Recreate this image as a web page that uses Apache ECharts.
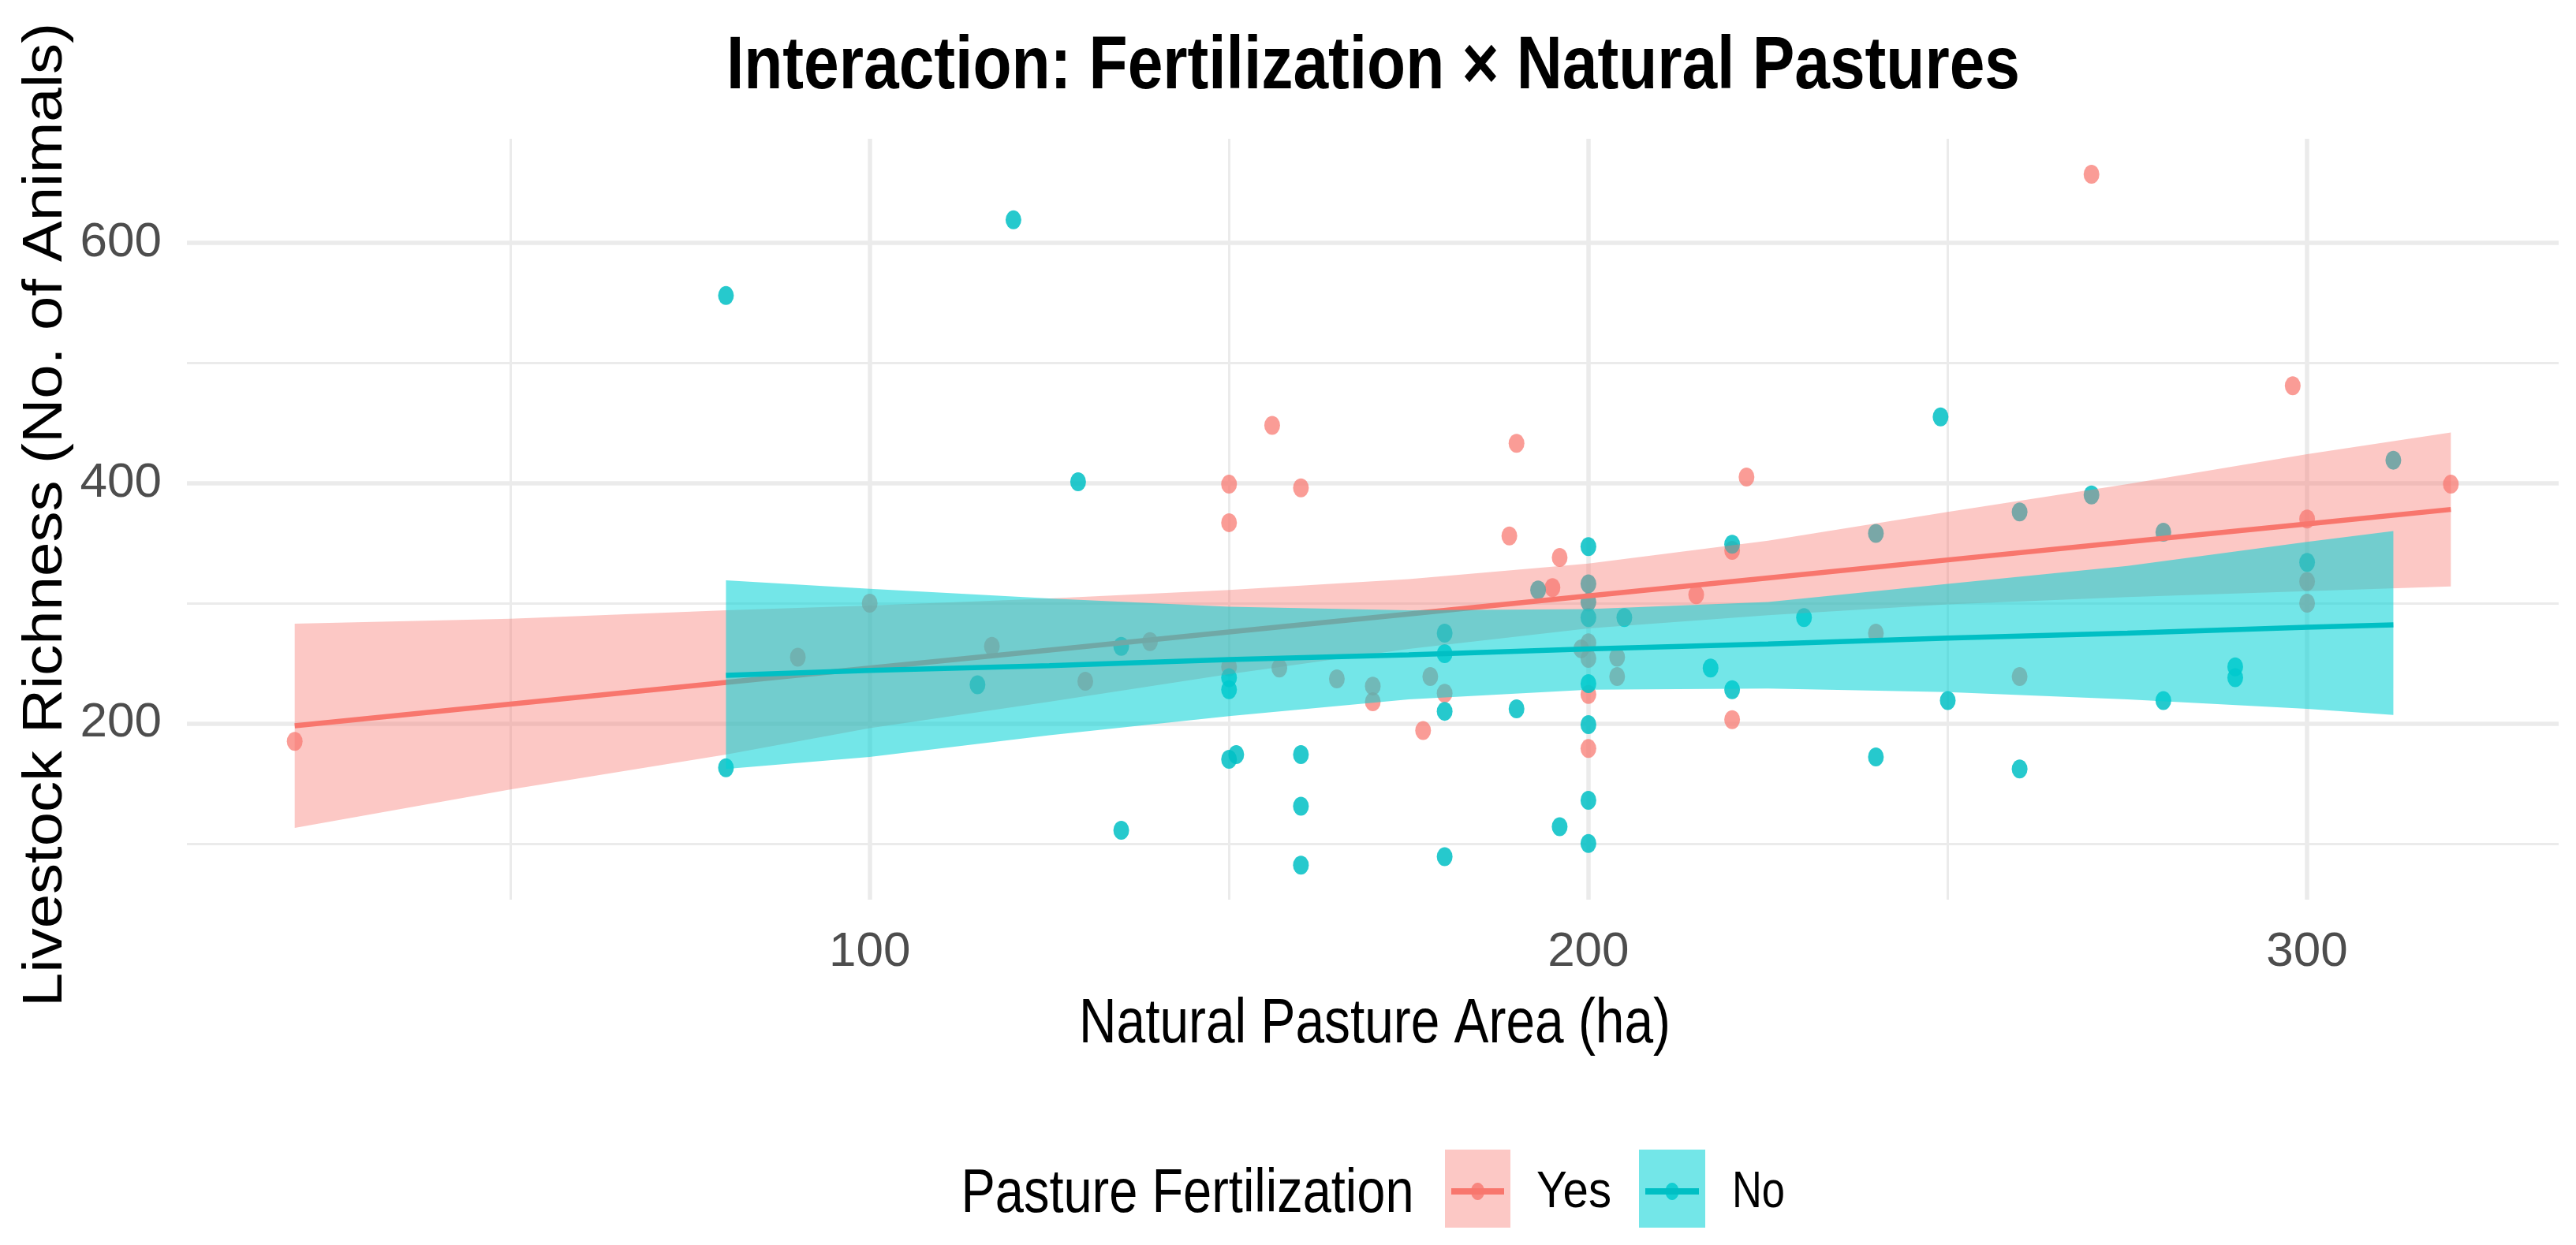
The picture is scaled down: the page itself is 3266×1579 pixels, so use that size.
<!DOCTYPE html>
<html>
<head>
<meta charset="utf-8">
<script src="https://cdn.jsdelivr.net/npm/echarts@6/dist/echarts.min.js"></script>
<style>
html,body{margin:0;padding:0;background:#fff;}
#chart{width:3266px;height:1579px;}
</style>
</head>
<body>
<div id="chart"></div>
<script>
// ---------------- data ----------------
const yesPoints = [[20,185],[90,255],[100,300],[117,264],[130,235],[139,268],[150,399],[150,367],[150,247],[156,448],[157,246],[160,396],[165,237],[170,231],[170,218],[177,194],[178,239],[180,225],[189,356],[190,433],[195,313],[196,338],[199,262],[200,267],[200,254],[200,224],[200,179],[204,255],[204,239],[215,307],[220,344],[220,203],[222,405],[240,275],[260,239],[270,657],[298,481],[300,370],[300,318],[300,300],[320,399]];
const noPoints = [[80,556],[80,163],[115,232],[120,619],[129,401],[135,264],[135,111],[150,238],[150,228],[150,170],[151,174],[160,174],[160,131],[160,82],[180,275],[180,258],[180,210],[180,89],[190,212],[193,311],[196,114],[200,347],[200,316],[200,301],[200,288],[200,233],[200,199],[200,136],[200,100],[205,288],[217,246],[220,349],[220,228],[230,288],[240,358],[240,172],[249,455],[250,219],[260,376],[260,162],[270,390],[280,359],[280,219],[290,247],[290,238],[300,334],[312,419]];

const yesBandX = [20, 50, 80, 100, 125, 150, 175, 200, 225, 250, 275, 300, 320];
const yesFit   = [198, 216, 234, 246, 261, 276, 291, 306, 321, 336, 351, 366, 378];
const yesUpper = [283, 287, 294, 298, 304, 311, 320, 333, 352, 376, 399, 424, 442];
const yesLower = [113, 145, 174, 196, 218, 241, 262, 279, 290, 299, 305, 310, 314];

const noBandX = [80, 100, 125, 150, 175, 200, 225, 250, 275, 300, 312];
const noFit   = [240, 244, 248, 253, 257, 262, 266, 271, 275, 280, 282];
const noUpper = [319, 312, 304, 297, 294, 295, 301, 316, 331, 351, 360];
const noLower = [162, 172, 190, 206, 220, 228, 229, 226, 220, 212, 207];

const xMajorTicks = [100, 200, 300];
const xMinorTicks = [50, 150, 250];
const yMajorTicks = [200, 400, 600];
const yMinorTicks = [100, 300, 500];

const titleText = 'Interaction: Fertilization × Natural Pastures';
const xTitle = 'Natural Pasture Area (ha)';
const yTitle = 'Livestock Richness (No. of Animals)';
const legendTitle = 'Pasture Fertilization';
const groupNames = ['Yes', 'No'];

// ---------------- styling ----------------
const RED = '#F8766D', CYAN = '#00BFC4';
const CYAN_FILL = '#00D2D6';
const FONT = '"Liberation Sans", Arial, sans-serif';
const GRID = '#EBEBEB';

const mctx = document.createElement('canvas').getContext('2d');
function scaleFor(text, size, weight, targetW) {
  mctx.font = (weight || 'normal') + ' ' + size + 'px ' + FONT;
  const w = mctx.measureText(text).width;
  return w > 0 ? targetW / w : 1;
}
function fittedText(text, cx, cy, size, weight, targetW, fill, rotation) {
  return {
    type: 'text', x: cx, y: cy, rotation: rotation || 0,
    scaleX: scaleFor(text, size, weight, targetW), scaleY: 1,
    silent: true, z: 50,
    style: { text: text, fontSize: size, fontWeight: weight || 'normal', fontFamily: FONT,
             fill: fill || '#000', align: 'center', verticalAlign: 'middle' }
  };
}

function bandSeries(name, xs, lo, hi, color, opacity, z) {
  const data = xs.map((x, i) => [x, lo[i], hi[i]]);
  return {
    type: 'custom', name: name + ' band', z: z, silent: true, clip: false,
    xAxisIndex: 0, yAxisIndex: 0,
    data: data,
    encode: { x: 0, y: [1, 2] },
    renderItem: function (params, api) {
      if (params.dataIndex !== 0) return { type: 'group', children: [] };
      const upper = data.map(d => api.coord([d[0], d[2]]));
      const lower = data.map(d => api.coord([d[0], d[1]])).reverse();
      return { type: 'polygon', shape: { points: upper.concat(lower) },
               style: { fill: color, opacity: opacity } };
    }
  };
}
function fitSeries(name, xs, ys, color, z) {
  return {
    type: 'line', name: name + ' fit', z: z, silent: true,
    xAxisIndex: 0, yAxisIndex: 0,
    data: xs.map((x, i) => [x, ys[i]]),
    showSymbol: false, symbol: 'none',
    lineStyle: { color: color, width: 6.5 }
  };
}
function pointSeries(name, pts, color, opacity) {
  return {
    type: 'scatter', name: name, z: 2, silent: true,
    xAxisIndex: 0, yAxisIndex: 0,
    data: pts, symbol: 'circle', symbolSize: [20, 24],
    itemStyle: { color: color, opacity: opacity }
  };
}

const tickLabel = { fontSize: 62, color: '#4D4D4D', fontFamily: FONT, lineHeight: 62 };

const option = {
  animation: false,
  backgroundColor: '#ffffff',
  grid: { left: 237, right: 22, top: 176, bottom: 438, containLabel: false },
  xAxis: [
    { type: 'value', min: 5, max: 335, position: 'bottom',
      axisLine: { show: false },
      axisTick: { show: false, customValues: xMajorTicks },
      axisLabel: Object.assign({ customValues: xMajorTicks, margin: 36 }, tickLabel),
      splitLine: { show: true, lineStyle: { color: GRID, width: 5.5 } } },
    { type: 'value', min: 5, max: 335, position: 'top',
      axisLine: { show: false },
      axisTick: { show: false, customValues: xMinorTicks },
      axisLabel: { show: false, customValues: xMinorTicks },
      splitLine: { show: true, lineStyle: { color: GRID, width: 3 } } }
  ],
  yAxis: [
    { type: 'value', min: 53.25, max: 686.5, position: 'left',
      axisLine: { show: false },
      axisTick: { show: false, customValues: yMajorTicks },
      axisLabel: Object.assign({ customValues: yMajorTicks, margin: 32 }, tickLabel),
      splitLine: { show: true, lineStyle: { color: GRID, width: 5.5 } } },
    { type: 'value', min: 53.25, max: 686.5, position: 'right',
      axisLine: { show: false },
      axisTick: { show: false, customValues: yMinorTicks },
      axisLabel: { show: false, customValues: yMinorTicks },
      splitLine: { show: true, lineStyle: { color: GRID, width: 3 } } }
  ],
  series: [
    pointSeries(groupNames[0], yesPoints, RED, 0.72),
    pointSeries(groupNames[1], noPoints, CYAN, 0.85),
    bandSeries(groupNames[0], yesBandX, yesLower, yesUpper, RED, 0.4, 3),
    fitSeries(groupNames[0], yesBandX, yesFit, RED, 4),
    bandSeries(groupNames[1], noBandX, noLower, noUpper, CYAN_FILL, 0.55, 5),
    fitSeries(groupNames[1], noBandX, noFit, CYAN, 6)
  ],
  graphic: [
    fittedText(titleText, 1741, 86, 95, 'bold', 1640, '#000'),
    fittedText(xTitle, 1743, 1300, 79, 'normal', 750, '#000'),
    fittedText(yTitle, 59, 653, 70, 'normal', 1248, '#000', Math.PI / 2),
    fittedText(legendTitle, 1505.5, 1515, 78, 'normal', 574, '#000'),
    // legend keys
    { type: 'rect', shape: { x: 1832, y: 1458, width: 83, height: 99 }, style: { fill: RED, opacity: 0.4 }, silent: true, z: 40 },
    { type: 'ellipse', shape: { cx: 1873.5, cy: 1511, rx: 8.5, ry: 11 }, style: { fill: RED, opacity: 0.8 }, silent: true, z: 39 },
    { type: 'line', shape: { x1: 1840, y1: 1511, x2: 1907, y2: 1511 }, style: { stroke: RED, lineWidth: 8 }, silent: true, z: 41 },
    fittedText(groupNames[0], 1995.5, 1513, 65, 'normal', 95, '#000'),
    { type: 'rect', shape: { x: 2078, y: 1458, width: 84, height: 99 }, style: { fill: CYAN_FILL, opacity: 0.55 }, silent: true, z: 40 },
    { type: 'ellipse', shape: { cx: 2120, cy: 1511, rx: 8.5, ry: 11 }, style: { fill: CYAN, opacity: 0.85 }, silent: true, z: 39 },
    { type: 'line', shape: { x1: 2086, y1: 1511, x2: 2154, y2: 1511 }, style: { stroke: CYAN, lineWidth: 8 }, silent: true, z: 41 },
    fittedText(groupNames[1], 2229.5, 1513, 65, 'normal', 67, '#000')
  ]
};

const chart = echarts.init(document.getElementById('chart'), null, { renderer: 'canvas' });
chart.setOption(option);
</script>
</body>
</html>
